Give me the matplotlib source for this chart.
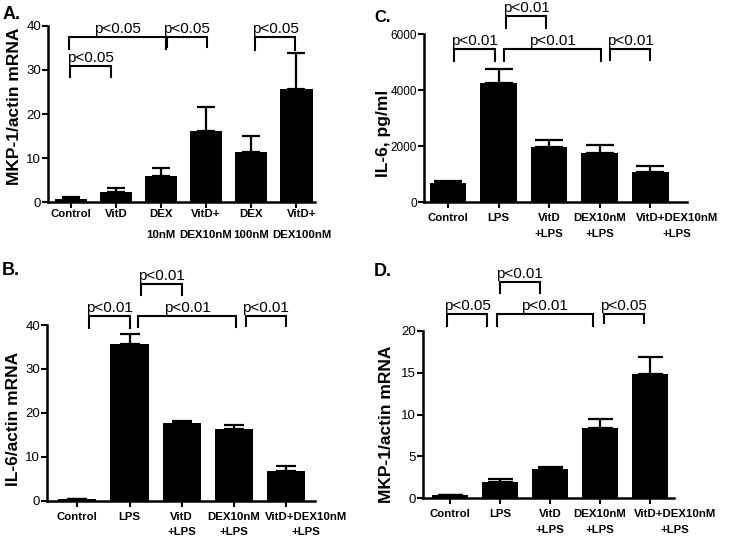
import numpy as np
import matplotlib
matplotlib.use("Agg")
import matplotlib.pyplot as plt
from matplotlib.transforms import ScaledTranslation

# ---- data ----
labels_a = ['Control', 'VitD', 'DEX\n10nM', 'VitD+\nDEX10nM', 'DEX\n100nM', 'VitD+\nDEX100nM']
mkp_a = [0.8, 2.4, 6.0, 16.2, 11.5, 25.7]
mkp_a_err = [0.3, 0.8, 1.8, 5.3, 3.6, 8.2]

labels_lps = ['Control', 'LPS', 'VitD\n+LPS', 'DEX10nM\n+LPS', 'VitD+DEX10nM\n+LPS']
il6_mrna_b = [0.3, 35.7, 17.6, 16.3, 6.8]
il6_mrna_b_err = [0.05, 2.2, 0.6, 1.0, 1.1]

il6_pg_c = [700, 4260, 1970, 1770, 1070]
il6_pg_c_err = [50, 510, 270, 270, 240]

mkp_d = [0.4, 2.0, 3.5, 8.4, 14.8]
mkp_d_err = [0.05, 0.3, 0.3, 1.1, 2.1]

# significance brackets: (x_left, x_right, y_top, y_drop, text)
brackets_a = [(-0.04, 2.11, 37.4, 34.8, 'p<0.05'), (2.13, 3.02, 37.4, 35.3, 'p<0.05'),
              (4.09, 4.98, 37.4, 34.6, 'p<0.05'), (-0.01, 0.88, 30.9, 28.3, 'p<0.05')]
brackets_b = [(0.23, 1.0, 42.1, 39.3, 'p<0.01'), (1.22, 2.0, 49.4, 46.9, 'p<0.01'),
              (1.17, 3.03, 42.1, 39.5, 'p<0.01'), (3.23, 3.99, 42.1, 39.8, 'p<0.01')]
brackets_c = [(0.12, 0.94, 5464, 5046, 'p<0.01'), (1.15, 1.94, 6654, 6214, 'p<0.01'),
              (1.10, 3.03, 5464, 5030, 'p<0.01'), (3.21, 4.00, 5464, 5080, 'p<0.01')]
brackets_d = [(-0.06, 0.74, 22.0, 20.6, 'p<0.05'), (0.99, 1.79, 25.8, 24.5, 'p<0.01'),
              (0.94, 2.85, 22.0, 20.6, 'p<0.01'), (3.07, 3.87, 22.0, 20.9, 'p<0.05')]

plt.rcParams['font.family'] = ['Liberation Sans', 'DejaVu Sans']

fig = plt.figure(figsize=(7.45, 5.38), dpi=100)


def panel(rect, vals, errs, labels, ylim, yticks, xlim, brackets, capsize, ysize,
          xpad, lsp, last_shift):
    ax = fig.add_axes(rect)
    x = np.arange(len(vals))
    ax.bar(x, vals, width=0.73, color='black', zorder=2)
    ax.errorbar(x, vals, yerr=[np.zeros(len(errs)), errs], fmt='none', ecolor='black',
                elinewidth=1.6, capsize=capsize, capthick=1.6, zorder=1)
    ax.set_xlim(*xlim)
    ax.set_ylim(*ylim)
    ax.set_yticks(yticks)
    ax.set_xticks(x)
    ax.set_xticklabels(labels, fontweight='bold', fontsize=8.2, linespacing=lsp)
    ax.tick_params(axis='y', labelsize=ysize, width=1.5, length=4, pad=1)
    ax.tick_params(axis='x', width=1.5, length=4, pad=xpad)
    for s in ['top', 'right']:
        ax.spines[s].set_visible(False)
    for s in ['left', 'bottom']:
        ax.spines[s].set_linewidth(1.8)
    # last label sits a bit to the right of its bar in the original
    lab = ax.get_xticklabels()[-1]
    lab.set_transform(lab.get_transform() + ScaledTranslation(last_shift / 100, 0, fig.dpi_scale_trans))
    for x1, x2, yt, yd, txt in brackets:
        ax.plot([x1, x1, x2, x2], [yd, yt, yt, yd], color='black', lw=1.5,
                clip_on=False, solid_joinstyle='miter')
        ax.annotate(txt, xy=((x1 + x2) / 2, yt), xytext=(0, 3), textcoords='offset points',
                    ha='center', va='baseline', fontsize=11, annotation_clip=False)
    return ax


panel([0.0644, 0.624, 0.3584, 0.328], mkp_a, mkp_a_err, labels_a, (0, 40),
      [0, 10, 20, 30, 40], (-0.51, 5.42), brackets_a, 6.5, 9.5, 1, 2.3, 6)
panel([0.5691, 0.624, 0.353, 0.3123], il6_pg_c, il6_pg_c_err, labels_lps, (0, 6000),
      [0, 2000, 4000, 6000], (-0.475, 4.73), brackets_c, 10, 8.5, 4, 1.7, 27)
panel([0.0631, 0.0693, 0.3597, 0.3266], il6_mrna_b, il6_mrna_b_err, labels_lps, (0, 40),
      [0, 10, 20, 30, 40], (-0.58, 4.55), brackets_b, 7, 9.5, 4, 1.7, 20)
panel([0.5678, 0.0738, 0.3369, 0.311], mkp_d, mkp_d_err, labels_lps, (0, 20),
      [0, 5, 10, 15, 20], (-0.54, 4.48), brackets_d, 9, 9.5, 4, 1.7, 25)

# y labels and panel letters
ylab = dict(rotation=90, ha='center', va='center', fontweight='bold', fontsize=12.5)
fig.text(0.0188, 0.803, 'MKP-1/actin mRNA', **ylab)
fig.text(0.5148, 0.752, 'IL-6, pg/ml', **ylab)
fig.text(0.0181, 0.221, 'IL-6/actin mRNA', **ylab)
fig.text(0.5188, 0.212, 'MKP-1/actin mRNA', **ylab)

fig.text(3 / 745, 1 - 6 / 538, 'A.', ha='left', va='top', fontweight='bold', fontsize=13)
fig.text(374 / 745, 1 - 10 / 538, 'C.', ha='left', va='top', fontweight='bold', fontsize=12)
fig.text(2 / 745, 1 - 262 / 538, 'B.', ha='left', va='top', fontweight='bold', fontsize=13)
fig.text(374 / 745, 1 - 263 / 538, 'D.', ha='left', va='top', fontweight='bold', fontsize=13)

fig.savefig('out.png', dpi=100)
